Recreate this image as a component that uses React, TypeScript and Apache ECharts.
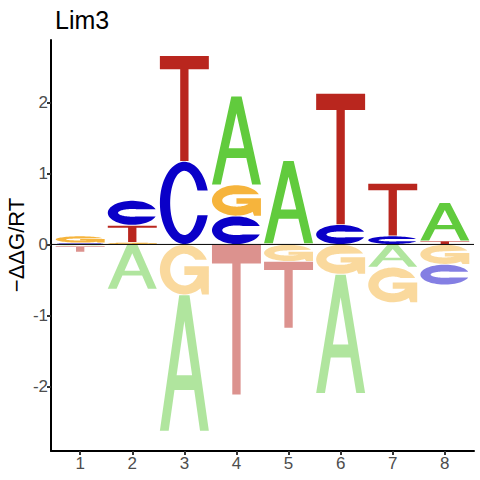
import React, { useEffect, useRef } from "react";
import * as echarts from "echarts";

// ---- data ----
const positions = [1, 2, 3, 4, 5, 6, 7, 8];
const letters = ["A", "C", "G", "T"];
const valuesA = [-0.02, -0.63, -1.92, 1.25, 1.17, -1.68, -0.32, 0.54];
const valuesC = [0.02, 0.35, 1.17, 0.4, 0.01, 0.28, 0.12, -0.29];
const valuesG = [0.1, 0.03, -0.71, 0.44, -0.24, -0.42, -0.5, -0.28];
const valuesT = [-0.09, 0.24, 1.49, -2.12, -0.94, 1.85, 0.74, 0.05];
const yTicks = [-2, -1, 0, 1, 2];
const titleText = "Lim3";
const yAxisTitle = "\u2212\u0394\u0394G/RT";

const darkColors = ["#61CB3D", "#0A00C8", "#F6B43C", "#B9261E"];
const lightColors = [
  "rgba(97,203,61,0.5)",
  "rgba(10,0,200,0.5)",
  "rgba(246,180,60,0.5)",
  "rgba(185,38,30,0.5)",
];

const X_MIN = 0.44;
const X_MAX = 8.56;
const Y_MIN = -2.91;
const Y_MAX = 2.88;
const HALF_W = 0.47;
const FONT = "'Liberation Sans', Arial, Helvetica, sans-serif";

// build stacked rectangles [pos, yLow, yHigh, letterIdx, neg]
function buildStack() {
  const all = [valuesA, valuesC, valuesG, valuesT];
  const out: number[][] = [];
  positions.forEach((p, i) => {
    const items = all.map((arr, li) => ({ li, v: arr[i] }));
    const pos = items.filter((d) => d.v > 0).sort((a, b) => a.v - b.v);
    const neg = items.filter((d) => d.v < 0).sort((a, b) => b.v - a.v);
    let acc = 0;
    pos.forEach((d) => {
      out.push([p, acc, acc + d.v, d.li, 0]);
      acc += d.v;
    });
    acc = 0;
    neg.forEach((d) => {
      out.push([p, acc + d.v, acc, d.li, 1]);
      acc += d.v;
    });
  });
  return out;
}

// ---- glyph geometry (unit box, y down) ----
type Pt = [number, number];
function arc(cx: number, cy: number, rx: number, ry: number, a0: number, a1: number, n = 40): Pt[] {
  const pts: Pt[] = [];
  for (let k = 0; k <= n; k++) {
    const a = a0 + ((a1 - a0) * k) / n;
    pts.push([cx + rx * Math.cos(a), cy + ry * Math.sin(a)]);
  }
  return pts;
}
const clamp1 = (v: number) => Math.max(-1, Math.min(1, v));

function glyphContours(letter: string, hPx: number): Pt[][] {
  const vs = Math.min(0.34, Math.max(0.11, 9 / Math.max(hPx, 1)));
  const hs = 0.21;
  const TWO_PI = Math.PI * 2;
  if (letter === "T") {
    return [[[0, 0], [1, 0], [1, 0.125], [0.585, 0.125], [0.585, 1], [0.415, 1], [0.415, 0.125], [0, 0.125]]];
  }
  if (letter === "A") {
    const outer: Pt[] = [[0, 1], [0.395, 0], [0.605, 0], [1, 1], [0.82, 1], [0.7015, 0.7], [0.2985, 0.7], [0.18, 1]];
    const hole: Pt[] = [[0.5, 0.19], [0.342, 0.59], [0.658, 0.59]];
    return [outer, hole];
  }
  const rxi = 0.5 - hs;
  const ryi = Math.max(0.02, 0.5 - vs);
  if (letter === "C") {
    const yt = 0.35, yb = 0.65;
    const tO = Math.asin(clamp1((yt - 0.5) / 0.5));
    const outer = arc(0.5, 0.5, 0.5, 0.5, tO, -tO - TWO_PI, 60);
    const fb = Math.asin(clamp1((yb - 0.5) / ryi));
    const ft = Math.asin(clamp1((yt - 0.5) / ryi));
    const inner = arc(0.5, 0.5, rxi, ryi, fb - TWO_PI, ft, 60);
    return [outer.concat(inner)];
  }
  // G
  const yt = 0.3, barTop = 0.43, barBot = 0.61, stemX = 0.83;
  const tO = Math.asin(clamp1((yt - 0.5) / 0.5));
  const tE = Math.acos((stemX - 0.5) / 0.5) - TWO_PI;
  const outer = arc(0.5, 0.5, 0.5, 0.5, tO, tE, 60);
  const f0 = Math.asin(clamp1((barBot - 0.5) / ryi));
  const ft = Math.asin(clamp1((yt - 0.5) / ryi)) + TWO_PI;
  const inner = arc(0.5, 0.5, rxi, ryi, f0, ft, 60);
  const mid: Pt[] = [[0.86, 1], [1, 1], [1, barTop], [0.5, barTop], [0.5, barBot]];
  return [outer.concat(mid, inner)];
}

function glyphPath(letter: string, x: number, y: number, w: number, h: number) {
  const cs = glyphContours(letter, h);
  return cs
    .map((c) =>
      c
        .map((p, k) => `${k === 0 ? "M" : "L"}${(x + p[0] * w).toFixed(2)} ${(y + p[1] * h).toFixed(2)}`)
        .join(" ") + " Z"
    )
    .join(" ");
}

export default function App() {
  const ref = useRef<HTMLDivElement>(null);
  useEffect(() => {
    if (!ref.current) return;
    const chart = echarts.init(ref.current, null, { renderer: "svg" });
    const stack = buildStack();
    chart.setOption({
      animation: false,
      backgroundColor: "#ffffff",
      title: {
        text: titleText,
        left: 50,
        top: 2,
        textStyle: { fontSize: 25, fontWeight: "normal", color: "#000", fontFamily: FONT },
      },
      graphic: [
        {
          type: "text",
          x: 16,
          y: 245,
          rotation: Math.PI / 2,
          style: {
            text: yAxisTitle,
            fontSize: 22,
            fontFamily: FONT,
            fill: "#000",
            align: "center",
            verticalAlign: "middle",
          },
        },
      ],
      grid: { left: 51, right: 6, top: 40, bottom: 29, containLabel: false, outerBoundsMode: "none" },
      xAxis: {
        type: "value",
        min: X_MIN,
        max: X_MAX,
        axisLine: { onZero: false, lineStyle: { color: "#000", width: 2 } },
        axisTick: { customValues: positions, length: 4, lineStyle: { color: "#333", width: 2 } },
        axisLabel: {
          customValues: positions,
          color: "#4D4D4D",
          fontSize: 17,
          fontFamily: FONT,
          margin: 4,
        },
        splitLine: { show: false },
      },
      yAxis: {
        type: "value",
        min: Y_MIN,
        max: Y_MAX,
        axisLine: { onZero: false, lineStyle: { color: "#000", width: 2 } },
        axisTick: { customValues: yTicks, length: 4, lineStyle: { color: "#333", width: 2 } },
        axisLabel: {
          customValues: yTicks,
          color: "#4D4D4D",
          fontSize: 17,
          fontFamily: FONT,
          margin: 3,
        },
        splitLine: { show: false },
      },
      series: [
        {
          type: "custom",
          silent: true,
          encode: { x: 0, y: [1, 2] },
          data: stack,
          renderItem: (params: any, api: any) => {
            const pos = api.value(0) as number;
            const ya = api.value(1) as number;
            const yb = api.value(2) as number;
            const li = api.value(3) as number;
            const neg = api.value(4) as number;
            const p1 = api.coord([pos - HALF_W, Math.max(ya, yb)]);
            const p2 = api.coord([pos + HALF_W, Math.min(ya, yb)]);
            const x0 = p1[0];
            const w = p2[0] - p1[0];
            const top = p1[1] + 0.4;
            const h = p2[1] - p1[1] - 0.8;
            if (h < 0.3) return null;
            return {
              type: "path",
              shape: { pathData: glyphPath(letters[li], x0, top, w, h) },
              style: { fill: neg ? lightColors[li] : darkColors[li] },
            };
          },
          z: 2,
        },
        {
          type: "line",
          silent: true,
          symbol: "none",
          data: [
            [X_MIN, 0],
            [X_MAX, 0],
          ],
          lineStyle: { color: "#000", width: 1 },
          z: 3,
        },
      ],
    });
    return () => chart.dispose();
  }, []);
  return (
    <div
      ref={ref}
      style={{ position: "absolute", left: 0, top: 0, width: 480, height: 480, background: "#fff" }}
    />
  );
}
